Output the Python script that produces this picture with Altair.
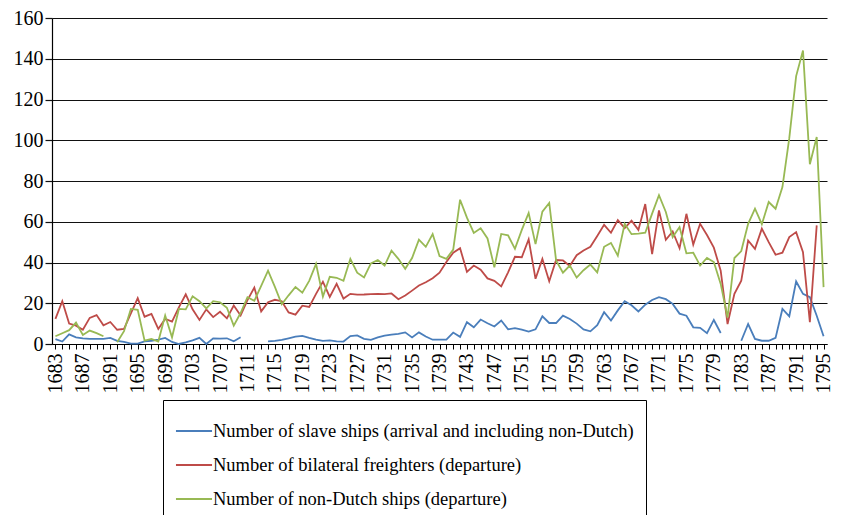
import altair as alt
import pandas as pd

years = list(range(1683, 1796))

slave_ships = [
    2.4, 1.2, 4.7, 3.3, 2.8, 2.5, 2.5, 2.5, 3.0, 1.5,      # 1683-1692
    1.0, 0.2, 0.2, 1.3, 1.6, 2.2, 3.0, 1.0, 0.0, 0.8,      # 1693-1702
    1.8, 3.0, 0.0, 2.8, 2.6, 2.8, 1.3, 3.3, None, None,    # 1703-1712
    None, 1.3, 1.5, 2.0, 2.8, 3.6, 4.0, 3.0, 2.1, 1.5,     # 1713-1722
    1.8, 1.3, 1.2, 3.9, 4.2, 2.5, 2.0, 3.2, 4.1, 4.6,      # 1723-1732
    5.0, 5.7, 3.2, 5.7, 3.7, 2.1, 2.1, 2.1, 5.6, 3.5,      # 1733-1742
    10.7, 8.2, 12.0, 10.2, 8.6, 11.5, 7.2, 7.8, 7.0, 6.1,  # 1743-1752
    7.2, 13.6, 10.3, 10.3, 13.9, 12.3, 10.0, 7.2, 6.2, 9.2,  # 1753-1762
    15.6, 11.5, 16.5, 21.0, 19.0, 16.0, 19.3, 21.6, 23.0, 22.0,  # 1763-1772
    19.7, 14.9, 13.9, 8.2, 7.9, 5.3, 11.8, 5.4, None, None,  # 1773-1782
    1.6, 9.8, 2.5, 1.6, 1.6, 3.0, 17.2, 13.6, 30.7, 24.6,  # 1783-1792
    23.0, 13.9, 3.8,                                        # 1793-1795
]

bilateral = [
    12.3, 21.0, 10.0, 9.0, 7.0, 12.8, 14.2, 9.2, 10.8, 7.0,      # 1683-1692
    7.4, 15.0, 22.5, 13.4, 14.8, 7.4, 12.3, 11.0, 18.0, 24.4,    # 1693-1702
    17.0, 11.8, 17.0, 13.2, 15.8, 12.6, 18.9, 14.0, 21.5, 27.7,  # 1703-1712
    16.0, 20.5, 21.7, 21.0, 15.5, 14.4, 18.8, 18.2, 24.6, 30.6,  # 1713-1722
    23.1, 29.5, 22.3, 24.6, 24.2, 24.3, 24.5, 24.6, 24.5, 24.8,  # 1723-1732
    22.0, 23.8, 26.2, 28.7, 30.3, 32.3, 35.0, 40.2, 44.8, 47.0,  # 1733-1742
    35.4, 38.5, 36.5, 32.2, 31.0, 28.3, 35.2, 42.8, 42.6, 51.4,  # 1743-1752
    32.0, 41.8, 30.8, 41.2, 41.0, 38.3, 43.6, 45.9, 47.7, 53.0,  # 1753-1762
    58.5, 54.6, 60.8, 56.9, 60.5, 56.0, 68.7, 44.1, 65.6, 51.1,  # 1763-1772
    55.2, 47.0, 63.9, 48.8, 59.0, 53.5, 47.3, 36.0, 9.8, 24.6,   # 1773-1782
    31.1, 50.8, 46.7, 56.6, 50.0, 43.8, 44.8, 52.5, 54.9, 45.0,  # 1783-1792
    10.7, 58.2, None,                                            # 1793-1795
]

non_dutch = [
    3.8, 5.3, 6.8, 10.5, 4.4, 6.6, 5.3, 3.8, None, 0.9,          # 1683-1692
    6.3, 17.2, 16.8, 1.6, 2.5, 1.2, 14.0, 3.3, 17.2, 17.0,       # 1693-1702
    23.4, 21.0, 17.5, 21.0, 20.5, 17.8, 9.0, 15.2, 23.0, 21.2,   # 1703-1712
    28.5, 36.0, 28.0, 19.5, 23.9, 28.0, 25.2, 31.0, 39.3, 23.3,  # 1713-1722
    33.0, 32.5, 31.0, 41.8, 35.0, 32.7, 39.6, 41.2, 38.5, 45.8,  # 1723-1732
    41.8, 36.9, 42.2, 51.2, 47.7, 54.0, 43.2, 41.8, 46.3, 70.8,  # 1733-1742
    62.0, 54.5, 56.8, 51.8, 37.6, 54.0, 53.3, 46.7, 56.0, 64.3,  # 1743-1752
    49.0, 65.0, 69.2, 41.0, 35.0, 38.5, 32.6, 36.2, 39.0, 35.2,  # 1753-1762
    47.7, 49.6, 43.4, 59.0, 53.9, 54.2, 54.6, 64.0, 73.0, 64.8,  # 1763-1772
    52.5, 57.4, 44.5, 44.8, 38.5, 42.2, 40.2, 29.5, 13.0, 42.2,  # 1773-1782
    45.6, 59.0, 66.4, 58.8, 69.7, 66.4, 77.0, 101.0, 131.5, 144.0,  # 1783-1792
    88.2, 101.6, 27.9,                                           # 1793-1795
]

series_names = [
    "Number of slave ships (arrival and including non-Dutch)",
    "Number of bilateral freighters (departure)",
    "Number of non-Dutch ships (departure)",
]
series_colors = ["#4A7EBB", "#BE4B48", "#98B954"]
y_ticks = [0, 20, 40, 60, 80, 100, 120, 140, 160]

rows = []
for name, vals in zip(series_names, [slave_ships, bilateral, non_dutch]):
    for yr, v in zip(years, vals):
        rows.append({"year": yr, "series": name, "value": v})
df = pd.DataFrame(rows)

FONT = "Liberation Serif, DejaVu Serif, serif"

chart = (
    alt.Chart(df)
    .mark_line(strokeWidth=1.8)
    .encode(
        x=alt.X(
            "year:Q",
            scale=alt.Scale(domain=[1682.5, 1795.5], nice=False, zero=False),
            axis=alt.Axis(
                values=years,
                labelExpr="(datum.value - 1683) % 4 == 0 ? '' + datum.value : ''",
                labelAngle=-90,
                labelAlign="right",
                labelBaseline="middle",
                labelOverlap=False,
                labelFlush=False,
                labelFont=FONT,
                labelFontSize=20,
                labelColor="black",
                labelPadding=4,
                tickSize=5,
                tickColor="black",
                domainColor="black",
                domainWidth=1.2,
                grid=False,
                title=None,
            ),
        ),
        y=alt.Y(
            "value:Q",
            scale=alt.Scale(domain=[0, 160], nice=False),
            axis=alt.Axis(
                values=y_ticks,
                labelFont=FONT,
                labelFontSize=20,
                labelColor="black",
                labelPadding=2,
                tickSize=7,
                tickColor="#111",
                tickWidth=1.2,
                domainColor="black",
                domainWidth=1.2,
                grid=True,
                gridColor="#111",
                gridWidth=1.2,
                title=None,
            ),
        ),
        color=alt.Color(
            "series:N",
            scale=alt.Scale(domain=series_names, range=series_colors),
            legend=alt.Legend(
                orient="none",
                legendX=111,
                legendY=382,
                direction="vertical",
                title=None,
                strokeColor="black",
                padding=12,
                symbolType="stroke",
                symbolSize=1300,
                symbolStrokeWidth=1.8,
                labelFont=FONT,
                labelFontSize=18.5,
                labelColor="black",
                labelOffset=0,
                labelLimit=600,
                rowPadding=5,
            ),
        ),
    )
    .properties(
        width=775,
        height=326,
        padding={"left": 44, "top": 10, "right": 7, "bottom": 171},
        autosize="none",
    )
    .configure_view(stroke=None)
)

chart.save("out.html", embed_options={"renderer": "svg", "actions": False})
